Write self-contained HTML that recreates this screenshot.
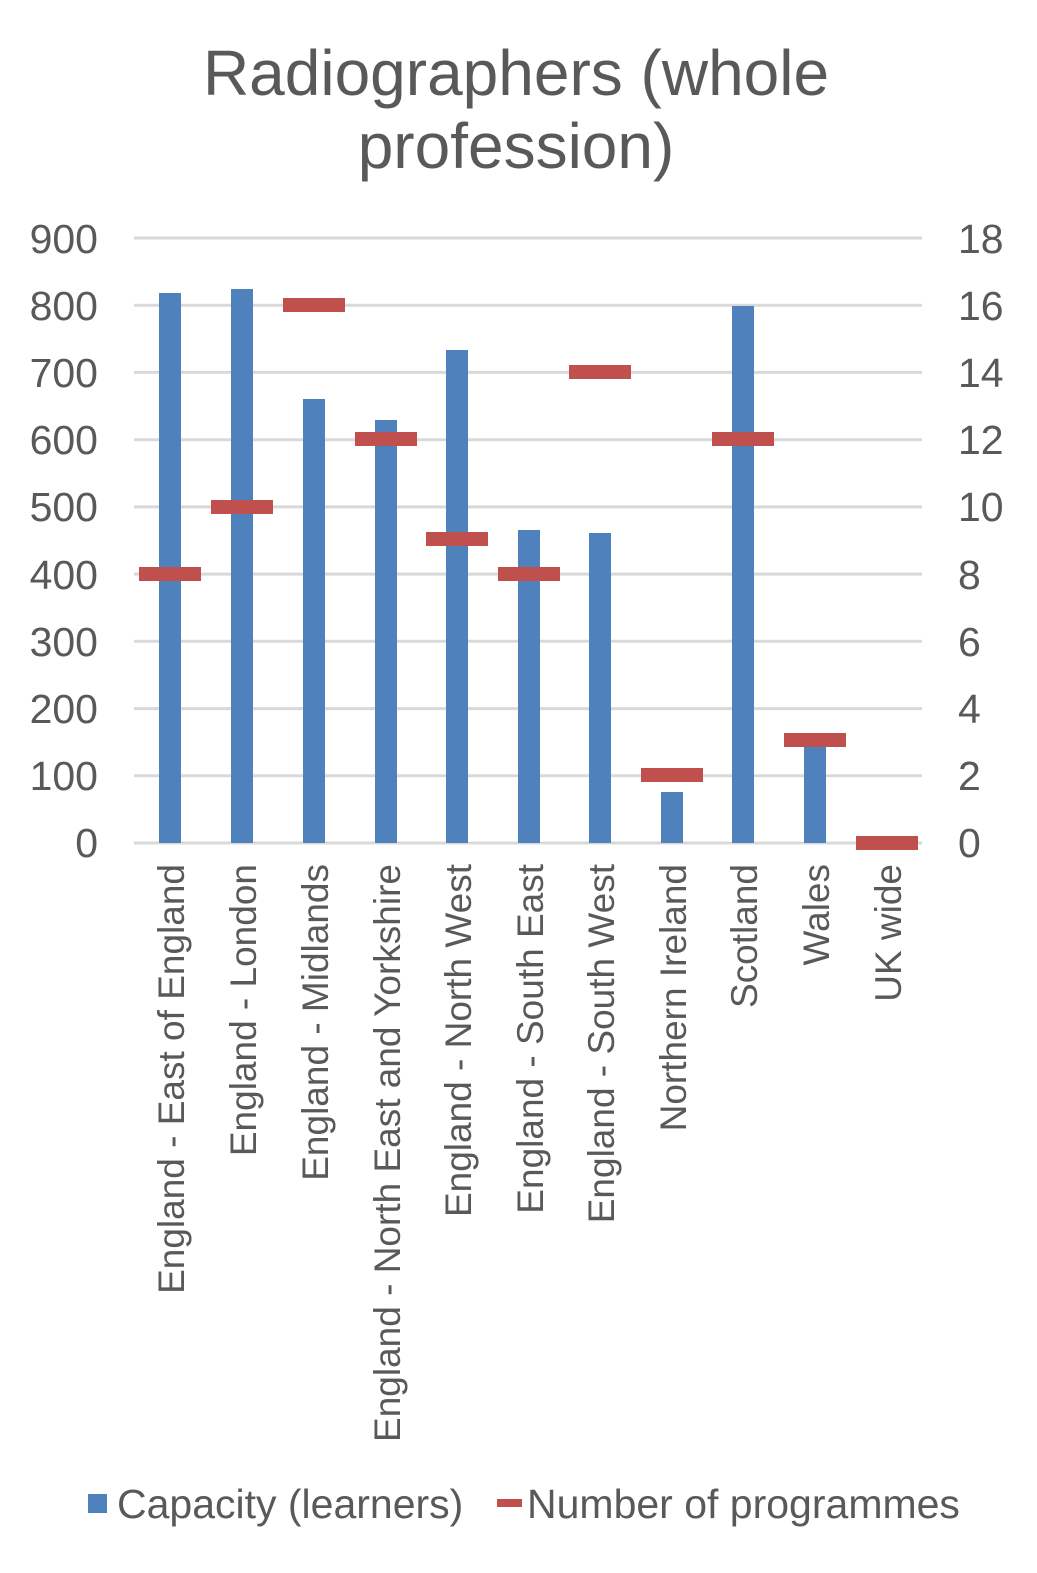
<!DOCTYPE html>
<html><head><meta charset="utf-8"><style>body{margin:0;background:#fff}svg{display:block}</style></head><body>
<svg width="1037" height="1573" xmlns="http://www.w3.org/2000/svg" font-family="Liberation Sans, Arial, sans-serif" fill="#595959">
<text x="516" y="95" font-size="64" text-anchor="middle">Radiographers (whole</text>
<text x="516" y="168" font-size="64" text-anchor="middle">profession)</text>
<g stroke="#d9d9d9" stroke-width="3">
<line x1="134" x2="922" y1="238" y2="238"/><line x1="134" x2="922" y1="305.2" y2="305.2"/><line x1="134" x2="922" y1="372.4" y2="372.4"/><line x1="134" x2="922" y1="439.7" y2="439.7"/><line x1="134" x2="922" y1="506.9" y2="506.9"/><line x1="134" x2="922" y1="574.1" y2="574.1"/><line x1="134" x2="922" y1="641.3" y2="641.3"/><line x1="134" x2="922" y1="708.6" y2="708.6"/><line x1="134" x2="922" y1="775.8" y2="775.8"/><line x1="134" x2="922" y1="843" y2="843"/>
</g>
<g font-size="41" text-anchor="end">
<text x="98" y="253">900</text><text x="98" y="320">800</text><text x="98" y="387">700</text><text x="98" y="454">600</text><text x="98" y="521">500</text><text x="98" y="589">400</text><text x="98" y="656">300</text><text x="98" y="723">200</text><text x="98" y="790">100</text><text x="98" y="857">0</text>
</g>
<g font-size="41">
<text x="958" y="253">18</text><text x="958" y="320">16</text><text x="958" y="387">14</text><text x="958" y="454">12</text><text x="958" y="521">10</text><text x="958" y="589">8</text><text x="958" y="656">6</text><text x="958" y="723">4</text><text x="958" y="790">2</text><text x="958" y="857">0</text>
</g>
<g fill="#4f81bd">
<rect x="159" y="293" width="22" height="550"/>
<rect x="231" y="289" width="22" height="554"/>
<rect x="303" y="399" width="22" height="444"/>
<rect x="375" y="420" width="22" height="423"/>
<rect x="446" y="350" width="22" height="493"/>
<rect x="518" y="530" width="22" height="313"/>
<rect x="589" y="533" width="22" height="310"/>
<rect x="661" y="792" width="22" height="51"/>
<rect x="732" y="306" width="22" height="537"/>
<rect x="804" y="743" width="22" height="100"/>
</g>
<g fill="#c0504d">
<rect x="139" y="567" width="62" height="14"/>
<rect x="211" y="500" width="62" height="14"/>
<rect x="283" y="298" width="62" height="14"/>
<rect x="355" y="432" width="62" height="14"/>
<rect x="426" y="532" width="62" height="14"/>
<rect x="498" y="567" width="62" height="14"/>
<rect x="569" y="365" width="62" height="14"/>
<rect x="641" y="768" width="62" height="14"/>
<rect x="712" y="432" width="62" height="14"/>
<rect x="784" y="733" width="62" height="14"/>
<rect x="856" y="836" width="62" height="14"/>
</g>
<g font-size="37" text-anchor="end">
<text transform="translate(184,864) rotate(-90)">England - East of England</text>
<text transform="translate(256,864) rotate(-90)">England - London</text>
<text transform="translate(328,864) rotate(-90)">England - Midlands</text>
<text transform="translate(400,864) rotate(-90)">England - North East and Yorkshire</text>
<text transform="translate(471,864) rotate(-90)">England - North West</text>
<text transform="translate(543,864) rotate(-90)">England - South East</text>
<text transform="translate(614,864) rotate(-90)">England - South West</text>
<text transform="translate(686,864) rotate(-90)">Northern Ireland</text>
<text transform="translate(757,864) rotate(-90)">Scotland</text>
<text transform="translate(829,864) rotate(-90)">Wales</text>
<text transform="translate(901,864) rotate(-90)">UK wide</text>
</g>
<rect x="88" y="1494" width="19" height="19" fill="#4f81bd"/>
<text x="117" y="1518" font-size="41">Capacity (learners)</text>
<rect x="497" y="1499" width="25" height="8" fill="#c0504d"/>
<text x="527" y="1518" font-size="41">Number of programmes</text>
</svg>
</body></html>
